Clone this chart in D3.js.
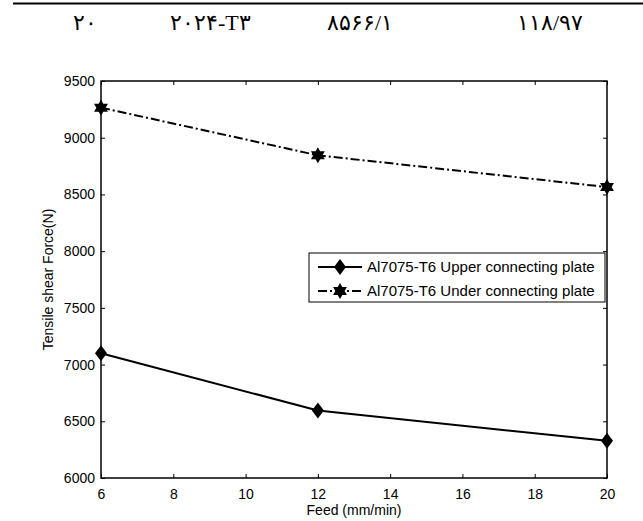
<!DOCTYPE html>
<html><head><meta charset="utf-8">
<script src="https://cdn.jsdelivr.net/npm/d3@7"></script>
<style>body{margin:0;background:#fff}svg{display:block}</style>
</head><body>
<svg id="c" width="643" height="521"></svg>
<script>
const feed = [6, 12, 20];
const upperForce = [7100, 6595, 6328];
const underForce = [9265, 8845, 8565];
const seriesNames = ["Al7075-T6 Upper connecting plate", "Al7075-T6 Under connecting plate"];
const xTicks = [6, 8, 10, 12, 14, 16, 18, 20];
const yTicks = [6000, 6500, 7000, 7500, 8000, 8500, 9000, 9500];
const headerTexts = ["۲۰", "۲۰۲۴-T۳", "۸۵۶۶/۱", "۱۱۸/۹۷"];
const headerX = [73, 170, 327, 517];

const svg = d3.select("#c");
const m = {l:101, r:607, t:81, b:478};
const x = d3.scaleLinear().domain([6,20]).range([m.l, m.r]);
const y = d3.scaleLinear().domain([6000,9500]).range([m.b, m.t]);

// header
svg.append("line").attr("x1",13).attr("x2",643).attr("y1",3.5).attr("y2",3.5).attr("stroke","#000").attr("stroke-width",2);
svg.selectAll("text.h").data(headerTexts).enter().append("text")
  .attr("x",(d,i)=>headerX[i]).attr("y",30)
  .attr("font-family","'Liberation Serif','DejaVu Sans',serif").attr("font-size",22).attr("font-weight",200)
  .style("direction","ltr").style("unicode-bidi","bidi-override")
  .text(d=>d);

const font = "'Liberation Sans', Arial, sans-serif";
const fs = 14;
const g = svg.append("g");

// axes
const tick = 4;
const ax = (sel, axis) => { sel.call(axis); sel.selectAll("text").attr("font-family",font).attr("font-size",fs).attr("fill","#000"); sel.select(".domain").remove(); sel.selectAll("line").attr("stroke","#000"); };
g.append("g").attr("transform",`translate(0,${m.b})`).call(s=>ax(s,d3.axisBottom(x).tickValues(xTicks).tickSize(-tick).tickPadding(11)));
g.append("g").attr("transform",`translate(0,${m.t})`).call(s=>ax(s,d3.axisTop(x).tickValues(xTicks).tickSize(-tick).tickFormat("")));
g.append("g").attr("transform",`translate(${m.l},0)`).call(s=>ax(s,d3.axisLeft(y).tickValues(yTicks).tickSize(-tick).tickPadding(6).tickFormat(d3.format("d"))));
g.append("g").attr("transform",`translate(${m.r},0)`).call(s=>ax(s,d3.axisRight(y).tickValues(yTicks).tickSize(-tick).tickFormat("")));
g.append("rect").attr("x",m.l).attr("y",m.t).attr("width",m.r-m.l).attr("height",m.b-m.t)
  .attr("fill","none").attr("stroke","#000").attr("stroke-width",1.5);

// titles
svg.append("text").attr("x",(m.l+m.r)/2).attr("y",515).attr("text-anchor","middle")
  .attr("font-family",font).attr("font-size",fs).text("Feed (mm/min)");
svg.append("text").attr("transform",`translate(53,${(m.t+m.b)/2}) rotate(-90)`).attr("text-anchor","middle")
  .attr("font-family",font).attr("font-size",fs).text("Tensile shear Force(N)");

// lines
const line = d3.line().x(d=>x(d[0])).y(d=>y(d[1]));
const upper = feed.map((f,i)=>[f,upperForce[i]]);
const under = feed.map((f,i)=>[f,underForce[i]]);
g.append("path").attr("d",line(upper)).attr("fill","none").attr("stroke","#000").attr("stroke-width",2);
g.append("path").attr("d",line(under)).attr("fill","none").attr("stroke","#000").attr("stroke-width",2).attr("stroke-dasharray","9,3,2,3");

const diamond = "M0,-8L6,0L0,8L-6,0Z";
function hexagram(r){ let p=[]; for(let i=0;i<12;i++){const a=Math.PI/6*i - Math.PI/2; const rr = i%2===0? r : r*0.58; p.push([rr*Math.cos(a), rr*Math.sin(a)]);} return "M"+p.map(q=>q.join(",")).join("L")+"Z"; }
const star = hexagram(8);
g.selectAll("path.d").data(upper).enter().append("path").attr("d",diamond).attr("transform",d=>`translate(${x(d[0])},${y(d[1])})`).attr("fill","#000");
g.selectAll("path.s").data(under).enter().append("path").attr("d",star).attr("transform",d=>`translate(${x(d[0])},${y(d[1])})`).attr("fill","#000");

// legend
const lg = svg.append("g");
lg.append("rect").attr("x",309).attr("y",253).attr("width",m.r-2-309).attr("height",49).attr("fill","#fff").attr("stroke","#000").attr("stroke-width",1);
const rows = [267, 291];
lg.append("line").attr("x1",318).attr("x2",362).attr("y1",rows[0]).attr("y2",rows[0]).attr("stroke","#000").attr("stroke-width",2);
lg.append("path").attr("d",diamond).attr("transform",`translate(340,${rows[0]})`).attr("fill","#000");
lg.append("line").attr("x1",318).attr("x2",362).attr("y1",rows[1]).attr("y2",rows[1]).attr("stroke","#000").attr("stroke-width",2).attr("stroke-dasharray","9,3,2,3");
lg.append("path").attr("d",star).attr("transform",`translate(340,${rows[1]})`).attr("fill","#000");
lg.selectAll("text").data(seriesNames).enter().append("text").attr("x",367).attr("y",(d,i)=>rows[i]+5)
  .attr("font-family",font).attr("font-size",15).text(d=>d);
</script>
</body></html>
